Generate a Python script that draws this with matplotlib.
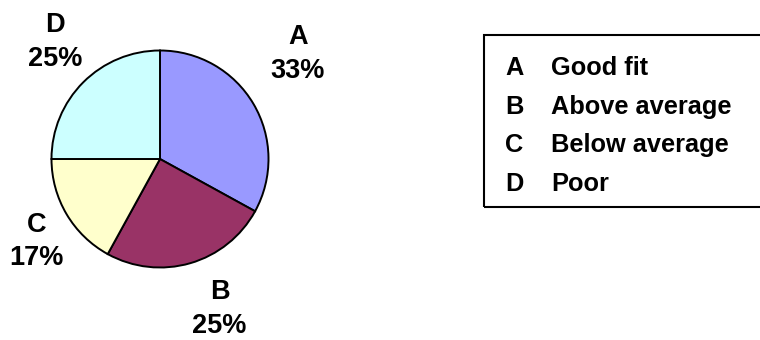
import matplotlib
matplotlib.use("Agg")
import matplotlib.pyplot as plt
from matplotlib.patches import Rectangle

plt.rcParams['font.family'] = ['Liberation Sans', 'DejaVu Sans']

letters = ['A', 'B', 'C', 'D']
names = ['Good fit', 'Above average', 'Below average', 'Poor']
values = [33, 25, 17, 25]
pct_labels = ['33%', '25%', '17%', '25%']
colors = ['#9999FF', '#993366', '#FFFFCC', '#CCFFFF']
# label positions in pie-radius units (relative to pie centre)
label_pos = [(1.27, 0.97), (0.55, -1.385), (-1.14, -0.76), (-0.97, 1.08)]

W, H = 760, 340
fig = plt.figure(figsize=(W / 100, H / 100), dpi=100)

cx, cy, r = 160, 159, 108.5
ax_w = 380
ax = fig.add_axes([0, 0, ax_w / W, 1])

ax.pie(values, colors=colors, startangle=90, counterclock=False, radius=1,
       wedgeprops=dict(edgecolor='black', linewidth=1.4))
ax.set_aspect('auto')
ax.set_xlim((0 - cx) / r, (ax_w - cx) / r)
ax.set_ylim((cy - H) / r, cy / r)
ax.axis('off')

for let, pct, (x, y) in zip(letters, pct_labels, label_pos):
    ax.text(x, y, f"{let}\n{pct}", ha='center', va='center', fontsize=19.5,
            fontweight='bold', linespacing=1.38)

# legend box
box = Rectangle((484 / W, 1 - 207 / H), (763 - 484) / W, (207 - 35) / H,
                transform=fig.transFigure, fill=False, edgecolor='black',
                linewidth=1.5, clip_on=False)
fig.patches.append(box)

row_y = [68, 107, 145, 184]
for let, name, y in zip(letters, names, row_y):
    fig.text(505 / W, 1 - y / H, let, ha='left', va='center', fontsize=18.3,
             fontweight='bold')
    fig.text(551 / W, 1 - y / H, name, ha='left', va='center', fontsize=18.3,
             fontweight='bold')

fig.savefig('out.png', dpi=100)
